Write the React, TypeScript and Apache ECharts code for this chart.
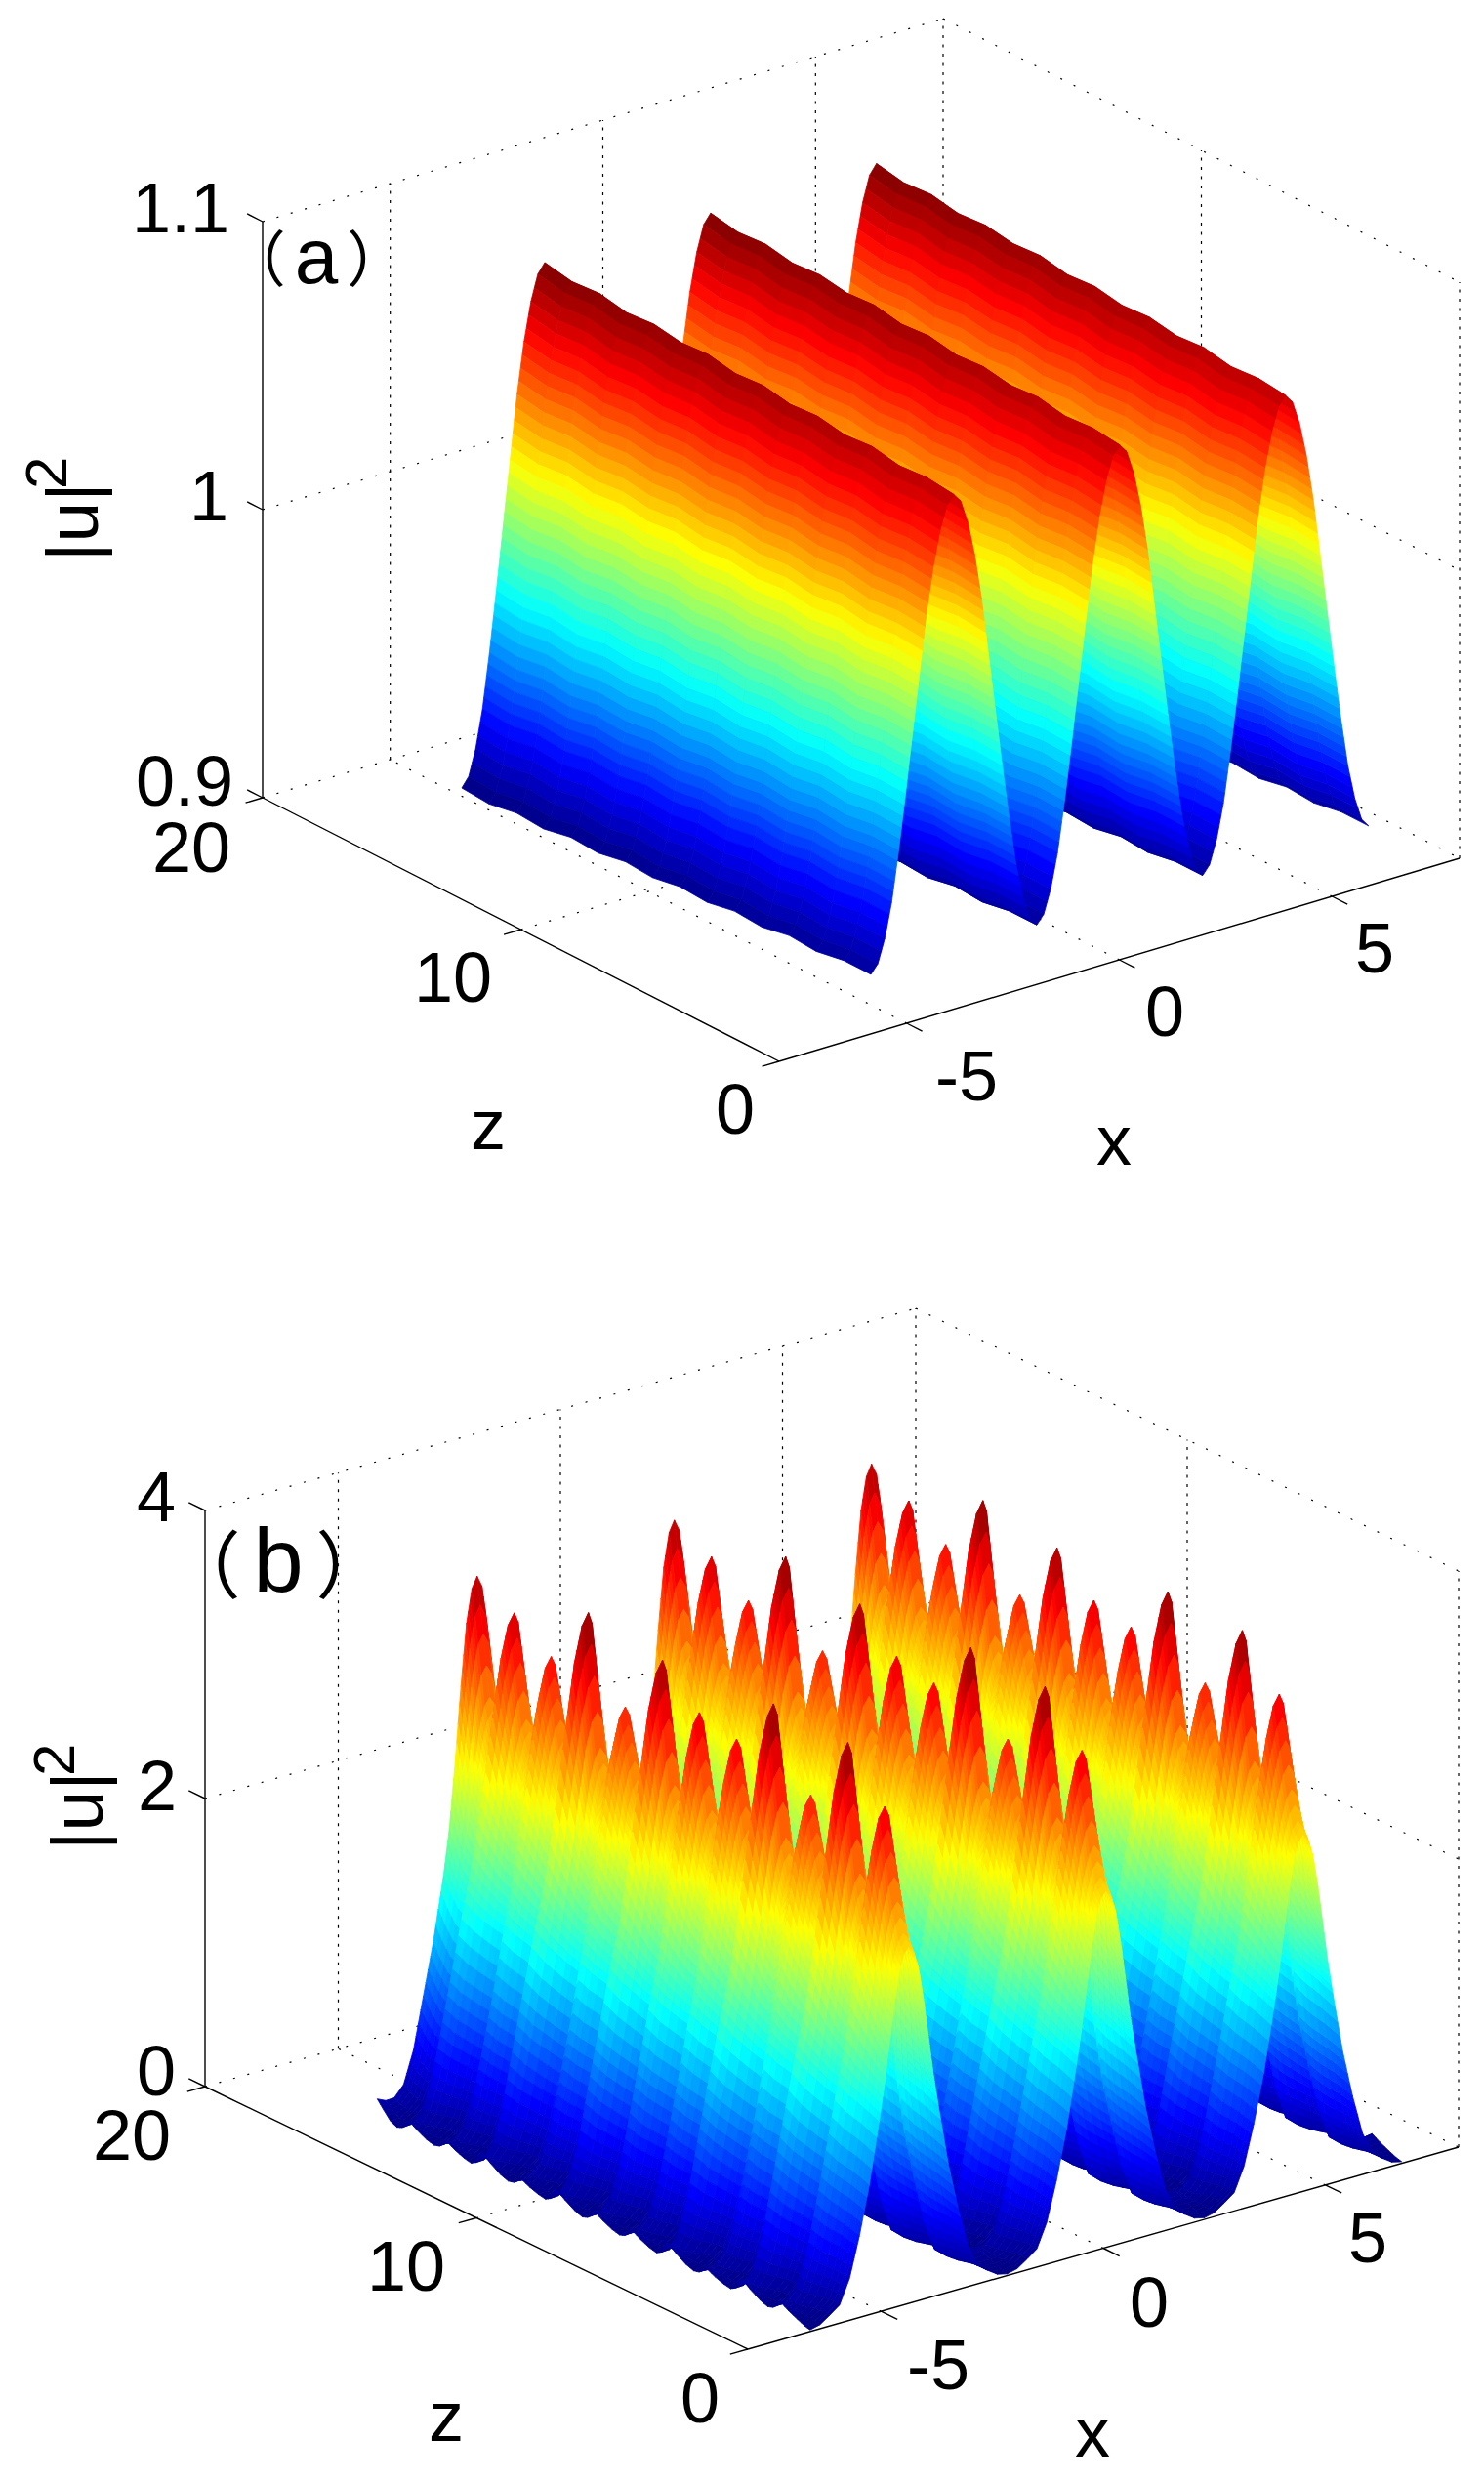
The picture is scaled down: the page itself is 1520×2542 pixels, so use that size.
import React, { useEffect, useRef } from "react";
import * as echarts from "echarts";

// ---------- axis tick values ----------
const xTicks = [-5, 0, 5];
const zTicks = [0, 10, 20];
const aYTicks = [0.9, 1, 1.1];
const bYTicks = [0, 2, 4];

// ---------- panel (a): rows along z, one half-hump read along x ----------
const aZRows = [18.2, 17.18, 16.15, 15.13, 14.11, 13.08, 12.06, 11.04, 10.01, 8.99, 7.97, 6.94, 5.92, 4.9, 3.87, 2.85];
const aRowX0 = [-4.41, -4.39, -4.37, -4.35, -4.33, -4.31, -4.29, -4.27, -4.25, -4.23, -4.21, -4.19, -4.17, -4.15, -4.13, -4.11];
const aRowGain = [1.1, 1.093, 1.087, 1.08, 1.073, 1.067, 1.06, 1.053, 1.047, 1.04, 1.033, 1.027, 1.02, 1.013, 1.007, 1.0];
const aRowTrend = [0.003, 0.0028, 0.0026, 0.0024, 0.0022, 0.002, 0.0018, 0.0016, 0.0014, 0.0012, 0.001, 0.0008, 0.0006, 0.0004, 0.0002, 0];
const aRowJag = [0.0007, -0.0006, 0.0006, -0.0007, 0.0006, -0.0005, 0.0007, -0.0006, 0.0006, -0.0006, 0.0006, -0.0006, 0.0007, -0.0006, 0.0006, 0];
const aHalfHump = [0.9, 0.903, 0.911, 0.923, 0.94, 0.959, 0.979, 0.999, 1.019, 1.035, 1.047, 1.055, 1.058];
const aHalfHumpDx = [0, 0.1625, 0.325, 0.4875, 0.65, 0.8125, 0.975, 1.1375, 1.3, 1.4625, 1.625, 1.7875, 1.95];

// ---------- panel (b): crest height along z and the ridge cross-section ----------
const bZRows = [
  15.9, 15.67, 15.44, 15.22, 14.99, 14.76, 14.53, 14.31, 14.08, 13.85, 13.62, 13.4, 13.17, 12.94, 12.71, 12.49, 12.26, 12.03,
  11.8, 11.58, 11.35, 11.12, 10.89, 10.67, 10.44, 10.21, 9.98, 9.75, 9.53, 9.3, 9.07, 8.84, 8.62, 8.39, 8.16, 7.93, 7.71, 7.48,
  7.25, 7.02, 6.8, 6.57, 6.34, 6.11, 5.89, 5.66, 5.43, 5.2, 4.98, 4.75, 4.52, 4.29, 4.06, 3.84, 3.61, 3.38, 3.15, 2.93, 2.7,
  2.47, 2.24, 2.02, 1.79, 1.56, 1.33, 1.11, 0.88, 0.65, 0.42, 0.2, 0,
];
const bCrest = [
  3.6, 3.22, 2.8, 2.62, 2.77, 3.14,
  3.47, 3.14, 2.77, 2.62, 2.74, 3.02,
  3.29, 3.02, 2.74, 2.62, 2.82, 3.3,
  3.72, 3.3, 2.82, 2.62, 2.72, 2.96,
  3.19, 2.96, 2.72, 2.62, 2.81, 3.25,
  3.64, 3.25, 2.81, 2.62, 2.76, 3.09,
  3.4, 3.09, 2.76, 2.62, 2.75, 3.05,
  3.34, 3.05, 2.75, 2.62, 2.82, 3.29,
  3.71, 3.29, 2.82, 2.62, 2.72, 2.96,
  3.2, 2.96, 2.72, 2.62, 2.82, 3.28,
  3.69, 3.28, 2.82, 2.62, 2.75, 3.07,
  3.37, 3.07, 2.75, 2.55, 2.48,
];
// sideways sway of the left flank of the ridges, row by row
const bRowSway = [
  -0.1, -0.1, -0.05, 0, -0.1, -0.35,
  -0.5, -0.35, -0.1, 0, -0.08, -0.28,
  -0.4, -0.28, -0.08, 0, -0.12, -0.42,
  -0.6, -0.42, -0.12, 0, -0.07, -0.25,
  -0.35, -0.25, -0.07, 0, -0.11, -0.4,
  -0.57, -0.4, -0.11, 0, -0.09, -0.32,
  -0.45, -0.32, -0.09, 0, -0.08, -0.29,
  -0.42, -0.29, -0.08, 0, -0.12, -0.42,
  -0.6, -0.42, -0.12, 0, -0.07, -0.25,
  -0.35, -0.25, -0.07, 0, -0.12, -0.41,
  -0.58, -0.41, -0.12, 0, -0.09, -0.3,
  -0.43, -0.3, -0.09, 0, 0,
];
const bHalfDx = [0, 0.222, 0.444, 0.666, 0.888, 1.11, 1.332, 1.554, 1.665, 1.776, 1.887, 1.998, 2.109, 2.22];
const bHalfBase = [0, 0.02, 0.07, 0.12, 0.28, 0.55, 0.88, 1.3, 1.52, 1.78, 2.03, 2.24, 2.36, 2.4];
const bHalfPeak = [0.14, 0.1, 0.06, 0.08, 0.13, 0.2, 0.22, 0.24, 0.32, 0.48, 0.7, 0.88, 0.97, 1];
const bHalfSway = [0.3, 0.6, 0.9, 1, 1, 1, 1, 0.9, 0.7, 0.5, 0.3, 0.15, 0.05, 0];
const bX0 = -6.6;
const bValley = 2.4;

const FONT = "Liberation Sans, Arial, sans-serif";
const CJK = "Noto Sans CJK SC, sans-serif";

type Panel = {
  F: number[]; ex: number[]; ez: number[]; ey: number; vMin: number; vMax: number;
};
const XMIN = -8, XMAX = 8, ZMAX = 20;
const panelA: Panel = { F: [798, 1087], ex: [697, -208], ez: [-529, -270], ey: 590, vMin: 0.9, vMax: 1.1 };
const panelB: Panel = { F: [766, 2406], ex: [728, -207], ez: [-556, -269], ey: 590, vMin: 0, vMax: 4 };

function project(p: Panel, x: number, z: number, v: number) {
  const a = (x - XMIN) / (XMAX - XMIN), b = z / ZMAX, h = (v - p.vMin) / (p.vMax - p.vMin);
  return [p.F[0] + p.ex[0] * a + p.ez[0] * b, p.F[1] + p.ex[1] * a + p.ez[1] * b - p.ey * h];
}

function jet(t: number) {
  const c = (u: number) => Math.round(255 * Math.max(0, Math.min(1, 1.5 - Math.abs(4 * t - u))));
  return `rgb(${c(3)},${c(2)},${c(1)})`;
}

// mirror a half period into full ridges
function mirrored<T>(half: T[], periods: number): T[] {
  const one = [...half.slice(0, -1), ...half.slice(1).reverse()];
  const out: T[] = [];
  for (let i = 0; i < periods; i++) out.push(...one);
  out.push(half[0]);
  return out;
}
function ridgeDx(halfDx: number[], periods: number) {
  const span = halfDx[halfDx.length - 1];
  const out: number[] = [];
  for (let i = 0; i < periods; i++) {
    const o = i * 2 * span;
    halfDx.slice(0, -1).forEach((d) => out.push(o + d));
    [...halfDx].reverse().slice(0, -1).forEach((d) => out.push(o + 2 * span - d));
  }
  out.push(periods * 2 * span);
  return out;
}

// xs[row][col], zs[row], vs[row][col], cs[row][col] (colour value) -> shaded cells, far cells first.
// A cell is split for the shading only (like MATLAB's interpolated shading).
function buildCells(xs: number[][], zs: number[], vs: number[][], cs: number[][], colourStep: number, cap: number, subZ: number) {
  const cells: number[][] = [];
  const nr = zs.length, nc = vs[0].length;
  const lerp = (a: number, b: number, t: number) => a + (b - a) * t;
  const splits: number[] = [];
  for (let c = 0; c < nc - 1; c++) {
    let d = 0;
    for (let r = 0; r < nr; r++) d = Math.max(d, Math.abs(cs[r][c + 1] - cs[r][c]));
    splits.push(Math.max(1, Math.min(cap, Math.ceil(d / colourStep))));
  }
  for (let r = 0; r < nr - 1; r++) {
    for (let sz = 0; sz < subZ; sz++) {
      const t0 = sz / subZ, t1 = (sz + 1) / subZ;
      const z0 = lerp(zs[r], zs[r + 1], t0), z1 = lerp(zs[r], zs[r + 1], t1);
      for (let c = nc - 2; c >= 0; c--) {
        const n = splits[c];
        for (let sx = n - 1; sx >= 0; sx--) {
          const s0 = sx / n, s1 = (sx + 1) / n;
          const at = (s: number, t: number, m: number[][]) =>
            lerp(lerp(m[r][c], m[r][c + 1], s), lerp(m[r + 1][c], m[r + 1][c + 1], s), t);
          const cv = (at(s0, t0, cs) + at(s1, t0, cs) + at(s0, t1, cs) + at(s1, t1, cs)) / 4;
          cells.push([
            at(s0, t0, xs), z0, at(s0, t0, vs),
            at(s1, t0, xs), z0, at(s1, t0, vs),
            at(s1, t1, xs), z1, at(s1, t1, vs),
            at(s0, t1, xs), z1, at(s0, t1, vs),
            cv,
          ]);
        }
      }
    }
  }
  return cells;
}

function surfaceA() {
  const dx = ridgeDx(aHalfHumpDx, 3);
  const hump = mirrored(aHalfHump, 3);
  const xs = aZRows.map((_, r) => dx.map((d) => aRowX0[r] + d));
  const cs = aZRows.map((_, r) => hump.map((h) => 0.979 + (h - 0.979) * aRowGain[r] + aRowTrend[r]));
  const vs = cs.map((row, r) => row.map((v) => v + aRowJag[r]));
  return { cells: buildCells(xs, aZRows, vs, cs, 0.0045, 6, 1), cs };
}
function surfaceB() {
  const dx = ridgeDx(bHalfDx, 3);
  const base = mirrored(bHalfBase, 3);
  const peak = mirrored(bHalfPeak, 3);
  const sway = mirrored(bHalfSway, 3);
  const xs = bZRows.map((_, r) => dx.map((d, c) => bX0 + d + bRowSway[r] * sway[c]));
  const vs = bZRows.map((_, r) => base.map((b, c) => b + (bCrest[r] - bValley) * peak[c]));
  return { cells: buildCells(xs, bZRows, vs, vs, 0.08, 4, 2), cs: vs };
}

function surfaceSeries(p: Panel, s: { cells: number[][]; cs: number[][] }) {
  const flat = s.cs.flat();
  const lo = Math.min(...flat), hi = Math.max(...flat);
  return {
    type: "custom", coordinateSystem: "none", silent: true, clip: false, progressive: 0, animation: false,
    data: s.cells,
    renderItem: (_: any, api: any) => {
      const pts: number[][] = [];
      for (let k = 0; k < 4; k++) {
        pts.push(project(p, api.value(k * 3), api.value(k * 3 + 1), api.value(k * 3 + 2)));
      }
      const col = jet((api.value(12) - lo) / (hi - lo));
      return { type: "polygon", shape: { points: pts }, style: { fill: col, stroke: col, lineWidth: 0.8 } };
    },
  };
}

// line list: x1,z1,v1,x2,z2,v2,kind (0 solid, 1 dotted, 2 dashed vertical)
function frameLines(yTicks: number[]) {
  const lo = yTicks[0], hi = yTicks[yTicks.length - 1];
  const back: number[][] = [], front: number[][] = [];
  yTicks.forEach((y) => {
    back.push([XMIN, ZMAX, y, XMAX, ZMAX, y, 1]);
    back.push([XMAX, ZMAX, y, XMAX, 0, y, 1]);
  });
  xTicks.forEach((x) => {
    back.push([x, ZMAX, lo, x, ZMAX, hi, 2]);
    back.push([x, 0, lo, x, ZMAX, lo, 1]);
  });
  back.push([XMAX, ZMAX, lo, XMAX, ZMAX, hi, 2]);
  back.push([XMAX, 0, lo, XMAX, 0, hi, 2]);
  back.push([XMAX, 10, lo, XMAX, 10, hi, 2]);
  back.push([XMIN, 10, lo, XMAX, 10, lo, 1]);
  front.push([XMIN, ZMAX, lo, XMIN, ZMAX, hi, 0]);
  front.push([XMIN, 0, lo, XMIN, ZMAX, lo, 0]);
  front.push([XMIN, 0, lo, XMAX, 0, lo, 0]);
  yTicks.forEach((y) => front.push([XMIN, ZMAX, y, XMIN, ZMAX + 0.6, y, 0]));
  zTicks.forEach((z) => front.push([XMIN, z, lo, XMIN - 0.4, z, lo, 0]));
  xTicks.forEach((x) => front.push([x, 0, lo, x, -0.6, lo, 0]));
  return { back, front };
}

function lineSeries(p: Panel, data: number[][]) {
  return {
    type: "custom", coordinateSystem: "none", silent: true, clip: false, progressive: 0, animation: false,
    data,
    renderItem: (_: any, api: any) => {
      const a = project(p, api.value(0), api.value(1), api.value(2));
      const b = project(p, api.value(3), api.value(4), api.value(5));
      const kind = api.value(6);
      return {
        type: "line",
        shape: { x1: a[0], y1: a[1], x2: b[0], y2: b[1] },
        style: {
          stroke: "#000", fill: null,
          lineWidth: kind === 0 ? 1.4 : 1.2,
          lineDash: kind === 1 ? [2, 13] : kind === 2 ? [3, 6.5] : null,
        },
      };
    },
  };
}

function txt(text: string, x: number, y: number, size: number, extra: any = {}, rotation = 0) {
  return {
    type: "text", x, y, rotation, z: 100,
    style: {
      text, fontSize: size, fontFamily: FONT, fill: "#000",
      textAlign: "center", align: "center", textVerticalAlign: "middle", verticalAlign: "middle", ...extra,
    },
  };
}
const left = { textAlign: "left", align: "left" };

function fmt(v: number) { return String(v); }

function buildOption() {
  const A = frameLines(aYTicks), B = frameLines(bYTicks);
  const graphic = [
    // panel (a) tick labels
    txt(fmt(aYTicks[2]), 185, 213, 72),
    txt(fmt(aYTicks[1]), 214, 508, 72),
    txt(fmt(aYTicks[0]), 189, 800, 72),
    txt(fmt(zTicks[2]), 196, 868, 72),
    txt(fmt(zTicks[1]), 464, 1001, 72),
    txt(fmt(zTicks[0]), 753, 1136, 72),
    txt(fmt(xTicks[0]), 990, 1102, 72),
    txt(fmt(xTicks[1]), 1193, 1036, 72),
    txt(fmt(xTicks[2]), 1408, 971, 72),
    txt("z", 500, 1152, 72),
    txt("x", 1141, 1168, 72),
    txt("|u|", 74, 575, 75, left, Math.PI / 2),
    txt("2", 47, 501, 60, left, Math.PI / 2),
    {
      type: "text", x: 324, y: 262, z: 100,
      style: {
        text: "{p|（}{l|a}{p|）}", fill: "#000", textAlign: "center", align: "center", textVerticalAlign: "middle", verticalAlign: "middle",
        rich: { p: { fontSize: 62, fontFamily: CJK }, l: { fontSize: 80, fontFamily: FONT, padding: [0, 9, 0, 9] } },
      },
    },
    // panel (b) tick labels
    txt(fmt(bYTicks[2]), 160, 1533, 72),
    txt(fmt(bYTicks[1]), 161, 1829, 72),
    txt(fmt(bYTicks[0]), 160, 2121, 72),
    txt(fmt(zTicks[2]), 135, 2187, 72),
    txt(fmt(zTicks[1]), 416, 2321, 72),
    txt(fmt(zTicks[0]), 717, 2456, 72),
    txt(fmt(xTicks[0]), 961, 2422, 72),
    txt(fmt(xTicks[1]), 1177, 2358, 72),
    txt(fmt(xTicks[2]), 1401, 2292, 72),
    txt("z", 457, 2475, 72),
    txt("x", 1119, 2491, 72),
    txt("|u|", 79, 1895, 75, left, Math.PI / 2),
    txt("2", 55, 1819, 60, left, Math.PI / 2),
    {
      type: "text", x: 285, y: 1598, z: 100,
      style: {
        text: "{p|（}{l|b}{p|）}", fill: "#000", textAlign: "center", align: "center", textVerticalAlign: "middle", verticalAlign: "middle",
        rich: { p: { fontSize: 75, fontFamily: CJK }, l: { fontSize: 92, fontFamily: FONT, padding: [0, 13, 0, 13] } },
      },
    },
  ];
  return {
    animation: false,
    backgroundColor: "#fff",
    graphic,
    series: [
      lineSeries(panelA, A.back),
      surfaceSeries(panelA, surfaceA()),
      lineSeries(panelA, A.front),
      lineSeries(panelB, B.back),
      surfaceSeries(panelB, surfaceB()),
      lineSeries(panelB, B.front),
    ],
  };
}

export default function App() {
  const ref = useRef<HTMLDivElement>(null);
  useEffect(() => {
    document.body.style.margin = "0";
    const chart = echarts.init(ref.current!, null, { renderer: "svg" });
    chart.setOption(buildOption() as any);
    return () => chart.dispose();
  }, []);
  return <div ref={ref} style={{ width: 1520, height: 2542 }} />;
}
